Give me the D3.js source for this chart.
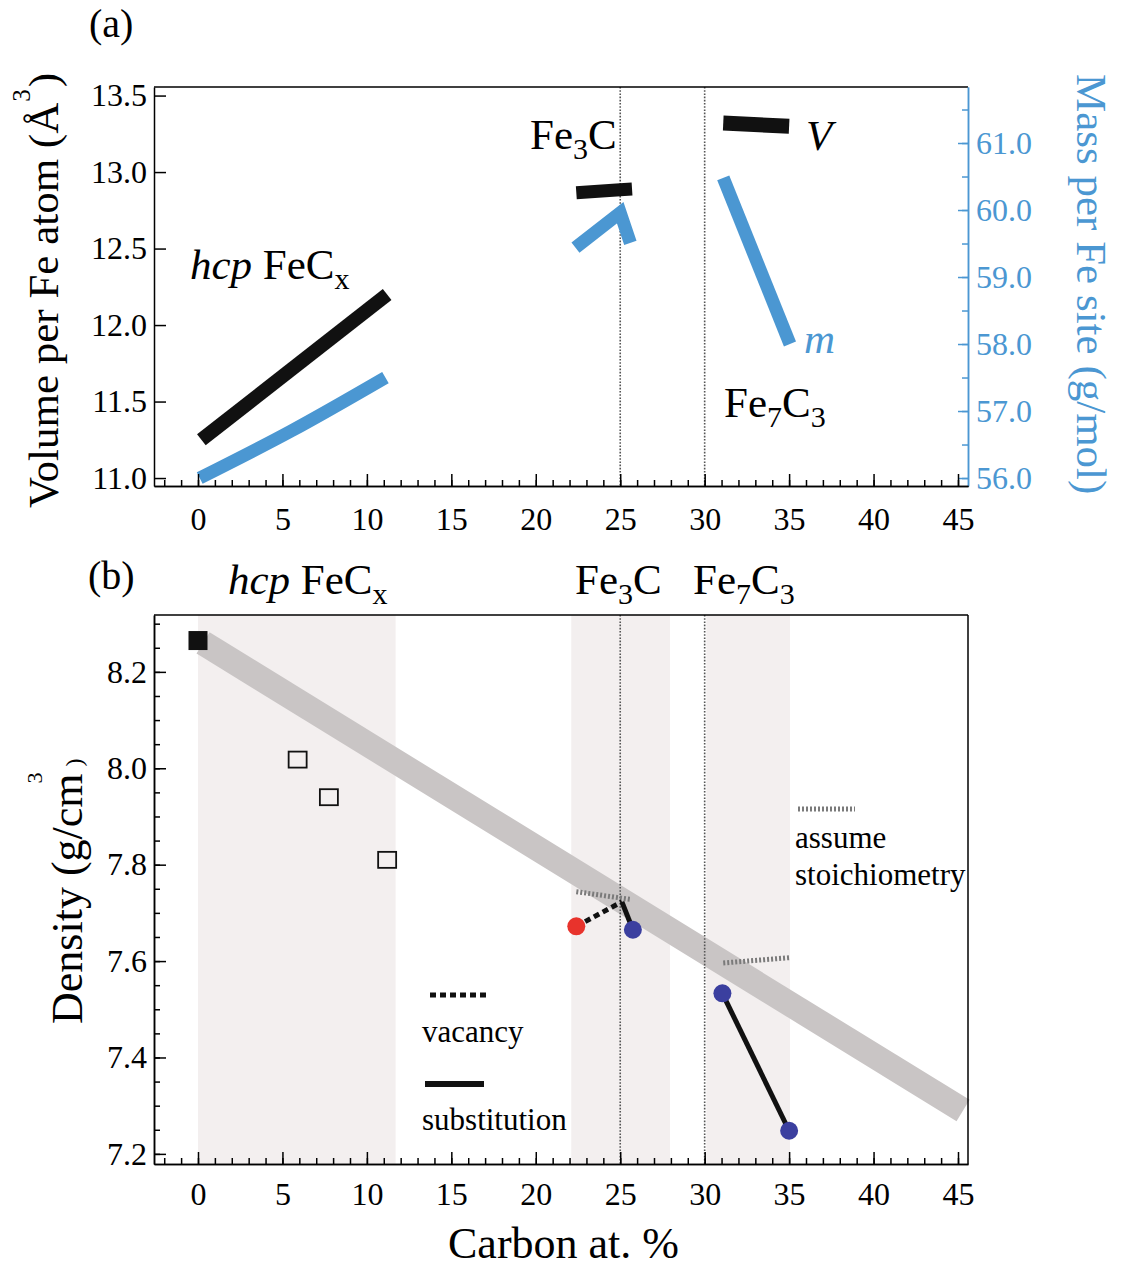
<!DOCTYPE html>
<html>
<head>
<meta charset="utf-8">
<script src="https://cdn.jsdelivr.net/npm/d3@7"></script>
<style>
  body { margin: 0; background: #fff; }
  text { font-family: "Liberation Serif", "Times New Roman", serif; }
</style>
</head>
<body>
<div class="chart"></div>
<script>
// ---- data ----
// x = carbon at. %
const xTicks = [0, 5, 10, 15, 20, 25, 30, 35, 40, 45];
const volTicks = [11.0, 11.5, 12.0, 12.5, 13.0, 13.5];
const massTicks = [56, 57, 58, 59, 60, 61];
const densTicks = [7.2, 7.4, 7.6, 7.8, 8.0, 8.2];
const phaseLines = [25, 30];

// panel (a): volume per Fe atom (black), mass per Fe site (blue)
const hcpVolume = [[0.2, 11.25], [11.2, 12.2]];
const hcpMass = [[0.1, 56.0], [5.5, 56.7], [11.1, 57.5]];
const fe3cVolume = [[22.4, 12.865], [25.0, 12.885], [25.7, 12.89]];
const fe3cMass = [[22.35, 59.44], [25.0, 59.96], [25.6, 59.51]];
const fe7c3Volume = [[31.1, 13.32], [35.0, 13.30]];
const fe7c3Mass = [[31.1, 60.48], [35.05, 58.0]];

// panel (b): density
const shadeRanges = [[0, 11.7], [22.1, 27.95], [30.1, 35.05]];
const trendBand = [[0.3, 8.26], [45.3, 7.29]];
const pureFe = [[0, 8.265]];
const hcpPoints = [[5.9, 8.018], [7.75, 7.94], [11.2, 7.81]];
const vacancyPoints = [[22.4, 7.672]];
const substPoints = [[25.75, 7.665], [31.05, 7.533], [35.0, 7.248]];
const vacancyLines = [[[22.4, 7.672], [25.1, 7.723]]];
const substLines = [[[25.1, 7.723], [25.75, 7.665]], [[31.05, 7.533], [35.0, 7.248]]];
const stoichLines = [[[22.4, 7.744], [25.6, 7.728]], [[31.1, 7.596], [35.0, 7.607]]];

// ---- setup ----
const svgWidth = 1127, svgHeight = 1268;
const blue = "#4b97d2";
const font = 32;

let svg = d3.select(".chart").append("svg")
  .attr("width", svgWidth).attr("height", svgHeight);

let xScale = d3.scaleLinear().domain([-2.605, 45.592]).range([154, 968]);

// panel a
const aTop = 87, aBot = 486;
let yVol = d3.scaleLinear().domain([10.948, 13.556]).range([aBot, aTop]);
let yMass = d3.scaleLinear().domain([55.881, 61.836]).range([aBot, aTop]);
// panel b
const bTop = 615, bBot = 1164;
let yDen = d3.scaleLinear().domain([7.179, 8.318]).range([bBot, bTop]);

function styleAxis(g, color) {
  g.attr("font-size", font).attr("font-family", "Liberation Serif, serif");
  g.selectAll("path, line").attr("stroke", color || "#000").attr("stroke-width", 1.5);
  g.selectAll("text").attr("fill", color || "#000");
}

function xAxis(yPos, pad) {
  svg.append("g").attr("transform", `translate(0,${yPos})`)
    .call(d3.axisBottom(xScale).tickValues(d3.range(-2, 46, 1)).tickSize(-6).tickSizeOuter(0).tickFormat(""))
    .call(styleAxis);
  svg.append("g").attr("transform", `translate(0,${yPos})`)
    .call(d3.axisBottom(xScale).tickValues(xTicks).tickSize(-12).tickSizeOuter(0).tickPadding(pad))
    .call(styleAxis);
}

function vLines(top, bot) {
  svg.append("g").selectAll("line").data(phaseLines).enter().append("line")
    .attr("x1", d => xScale(d)).attr("x2", d => xScale(d))
    .attr("y1", top).attr("y2", bot)
    .attr("stroke", "#555").attr("stroke-width", 1.6).attr("stroke-dasharray", "1.6,1.6");
}

// formula label with subscripts, parts = [[text, isSub, italic], ...]
function formula(x, y, parts, size) {
  let t = svg.append("text").attr("x", x).attr("y", y).attr("font-size", size);
  let down = false;
  parts.forEach(([s, sub, ital]) => {
    let sp = t.append("tspan").text(s);
    if (ital) sp.attr("font-style", "italic");
    if (sub && !down) { sp.attr("font-size", 30).attr("dy", 10); down = true; }
    else if (!sub && down) { sp.attr("dy", -10); down = false; }
  });
  return t;
}

// ================= panel (a) =================
vLines(aTop, aBot);

let lineVol = d3.line().x(d => xScale(d[0])).y(d => yVol(d[1]));
let lineMass = d3.line().x(d => xScale(d[0])).y(d => yMass(d[1]));

[hcpMass, fe3cMass, fe7c3Mass].forEach(s => {
  svg.append("path").attr("d", (s === hcpMass ? lineMass.curve(d3.curveMonotoneX) : lineMass.curve(d3.curveLinear))(s))
    .attr("fill", "none").attr("stroke", blue).attr("stroke-width", 13)
    .attr("stroke-linejoin", "miter");
});
[[hcpVolume, 14], [fe3cVolume, 13], [fe7c3Volume, 15]].forEach(([s, w]) => {
  svg.append("path").attr("d", lineVol(s))
    .attr("fill", "none").attr("stroke", "#111").attr("stroke-width", w)
    .attr("stroke-linejoin", "miter");
});

// frame
svg.append("line").attr("x1", 154).attr("x2", 968).attr("y1", aTop).attr("y2", aTop)
  .attr("stroke", "#000").attr("stroke-width", 1.5);
svg.append("g").attr("transform", "translate(154,0)")
  .call(d3.axisLeft(yVol).tickValues(volTicks).tickSize(-12).tickSizeOuter(0).tickPadding(7).tickFormat(d3.format(".1f")))
  .call(styleAxis);
svg.append("g").attr("transform", "translate(968,0)")
  .call(d3.axisRight(yMass).tickValues(d3.range(56, 61.6, 0.5)).tickSize(-6).tickSizeOuter(0).tickFormat(""))
  .call(g => styleAxis(g, blue));
svg.append("g").attr("transform", "translate(968,0)")
  .call(d3.axisRight(yMass).tickValues(massTicks).tickSize(-10).tickSizeOuter(0).tickPadding(8).tickFormat(d3.format(".1f")))
  .call(g => styleAxis(g, blue));
xAxis(aBot, 21);

// labels panel (a)
svg.append("text").attr("x", 89).attr("y", 37).attr("font-size", 40).text("(a)");
formula(190, 279, [["hcp", false, true], [" FeC"], ["x", true]], 43);
formula(530, 149, [["Fe"], ["3", true], ["C"]], 43);
formula(724, 417, [["Fe"], ["7", true], ["C"], ["3", true]], 43);

svg.append("text").attr("x", 806).attr("y", 150).attr("font-size", 43)
  .attr("font-style", "italic").text("V");
svg.append("text").attr("x", 804).attr("y", 353).attr("font-size", 43)
  .attr("font-style", "italic").attr("fill", blue).text("m");

let t = svg.append("text").attr("transform", "translate(58,508) rotate(-90)").attr("font-size", 43);
t.append("tspan").text("Volume per Fe atom (Å");
t.append("tspan").attr("font-size", 25).attr("dy", -28).attr("dx", 1).text("3");
t.append("tspan").attr("dy", 28).attr("dx", 2).text(")");

svg.append("text").attr("transform", "translate(1077,74) rotate(90)")
  .attr("font-size", 43).attr("fill", blue).text("Mass per Fe site (g/mol)");

// ================= panel (b) =================
svg.append("g").selectAll("rect").data(shadeRanges).enter().append("rect")
  .attr("x", d => xScale(d[0])).attr("width", d => xScale(d[1]) - xScale(d[0]))
  .attr("y", bTop).attr("height", bBot - bTop)
  .attr("fill", "#f3efef");

let lineDen = d3.line().x(d => xScale(d[0])).y(d => yDen(d[1]));

svg.append("path").attr("d", lineDen(trendBand))
  .attr("fill", "none").attr("stroke", "#c9c5c5").attr("stroke-width", 25);

vLines(bTop, bBot);

svg.append("g").selectAll("path").data(stoichLines).enter().append("path")
  .attr("d", lineDen).attr("fill", "none")
  .attr("stroke", "#7a7a7a").attr("stroke-width", 5).attr("stroke-dasharray", "2,2");
svg.append("g").selectAll("path").data(vacancyLines).enter().append("path")
  .attr("d", lineDen).attr("fill", "none")
  .attr("stroke", "#111").attr("stroke-width", 5).attr("stroke-dasharray", "6,4");
svg.append("g").selectAll("path").data(substLines).enter().append("path")
  .attr("d", lineDen).attr("fill", "none")
  .attr("stroke", "#111").attr("stroke-width", 5);

svg.append("g").selectAll("circle").data(vacancyPoints).enter().append("circle")
  .attr("cx", d => xScale(d[0])).attr("cy", d => yDen(d[1])).attr("r", 9)
  .attr("fill", "#e8332c");
svg.append("g").selectAll("circle").data(substPoints).enter().append("circle")
  .attr("cx", d => xScale(d[0])).attr("cy", d => yDen(d[1])).attr("r", 9)
  .attr("fill", "#3b3f9f");

svg.append("g").selectAll("rect").data(pureFe).enter().append("rect")
  .attr("x", d => xScale(d[0]) - 9.5).attr("y", d => yDen(d[1]) - 9.5)
  .attr("width", 19).attr("height", 19).attr("fill", "#111");
svg.append("g").selectAll("rect").data(hcpPoints).enter().append("rect")
  .attr("x", d => xScale(d[0]) - 9).attr("y", d => yDen(d[1]) - 8)
  .attr("width", 18).attr("height", 16)
  .attr("fill", "none").attr("stroke", "#111").attr("stroke-width", 1.8);

// frame
svg.append("line").attr("x1", 154).attr("x2", 968).attr("y1", bTop).attr("y2", bTop)
  .attr("stroke", "#000").attr("stroke-width", 1.5);
svg.append("line").attr("x1", 968).attr("x2", 968).attr("y1", bTop).attr("y2", bBot)
  .attr("stroke", "#000").attr("stroke-width", 1.5);
svg.append("g").attr("transform", "translate(154,0)")
  .call(d3.axisLeft(yDen).tickValues(d3.range(7.2, 8.31, 0.05)).tickSize(-6).tickSizeOuter(0).tickFormat(""))
  .call(styleAxis);
svg.append("g").attr("transform", "translate(154,0)")
  .call(d3.axisLeft(yDen).tickValues(densTicks).tickSize(-12).tickSizeOuter(0).tickPadding(7).tickFormat(d3.format(".1f")))
  .call(styleAxis);
xAxis(bBot, 18);

// legend
svg.append("line").attr("x1", 430).attr("x2", 490).attr("y1", 995).attr("y2", 995)
  .attr("stroke", "#111").attr("stroke-width", 5).attr("stroke-dasharray", "6,4");
svg.append("text").attr("x", 422).attr("y", 1042).attr("font-size", 31).text("vacancy");
svg.append("line").attr("x1", 425).attr("x2", 484).attr("y1", 1084).attr("y2", 1084)
  .attr("stroke", "#111").attr("stroke-width", 6);
svg.append("text").attr("x", 422).attr("y", 1130).attr("font-size", 31).text("substitution");
svg.append("line").attr("x1", 798).attr("x2", 855).attr("y1", 809).attr("y2", 809)
  .attr("stroke", "#7a7a7a").attr("stroke-width", 5).attr("stroke-dasharray", "2,2");
svg.append("text").attr("x", 795).attr("y", 848).attr("font-size", 31).text("assume");
svg.append("text").attr("x", 795).attr("y", 885).attr("font-size", 31).text("stoichiometry");

// labels panel (b)
svg.append("text").attr("x", 88).attr("y", 589).attr("font-size", 40).text("(b)");
formula(228, 594, [["hcp", false, true], [" FeC"], ["x", true]], 43);
formula(575, 594, [["Fe"], ["3", true], ["C"]], 43);
formula(693, 594, [["Fe"], ["7", true], ["C"], ["3", true]], 43);

t = svg.append("text").attr("transform", "translate(82,1024) rotate(-90)").attr("font-size", 44);
t.append("tspan").text("Density (g/cm");
t.append("tspan").attr("font-size", 22).attr("dx", -10).attr("dy", -40).text("3");
t.append("tspan").attr("font-size", 24).attr("dx", 6).attr("dy", 40).text(")");

svg.append("text").attr("x", 448).attr("y", 1258).attr("font-size", 44).text("Carbon at. %");
</script>
</body>
</html>
